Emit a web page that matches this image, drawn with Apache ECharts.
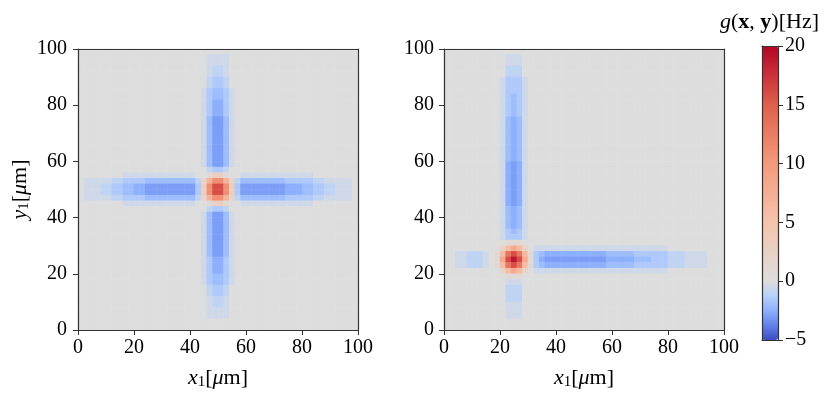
<!DOCTYPE html>
<html>
<head>
<meta charset="utf-8">
<script src="https://cdn.jsdelivr.net/npm/echarts@6/dist/echarts.min.js"></script>
<style>
  html, body { margin: 0; padding: 0; background: #fff; }
  #chart { width: 830px; height: 398px; }
</style>
</head>
<body>
<div id="chart"></div>
<script>
// cell centres in um (50 x 50 cells of 2 um)
const cellCenters = [1,3,5,7,9,11,13,15,17,19,21,23,25,27,29,31,33,35,37,39,41,43,45,47,49,
                     51,53,55,57,59,61,63,65,67,69,71,73,75,77,79,81,83,85,87,89,91,93,95,97,99];

// value of each character used in the cell rows (Hz)
const levels = {
  '.': 0, a: -0.5, b: -1, c: -1.5, d: -2, e: -2.5, f: -3, g: -3.5,
  '1': 1, '2': 2, '3': 3, '4': 4, '5': 5, '6': 6, '7': 7, '8': 8, '9': 9,
  A: 10, B: 11, C: 12, D: 13, E: 14, F: 15, G: 16, H: 17, I: 18, J: 19, K: 20
};

// left panel, top row is y = 99 um, first column x = 1 um
const leftRows = [
  "..................................................",
  ".......................aaaa.......................",
  ".......................aaaa.......................",
  ".......................abba.......................",
  ".......................abba.......................",
  ".......................bccb.......................",
  ".......................bccb.......................",
  "......................acddca......................",
  "......................acddca......................",
  "......................aceeca......................",
  "......................aceeca......................",
  "......................aceeca......................",
  "......................adffda......................",
  "......................adffda......................",
  "......................adffda......................",
  "......................adffda......................",
  "......................adffda......................",
  "......................adffda......................",
  "......................adffda......................",
  "......................adffda......................",
  "......................adffda......................",
  ".......................bccb.......................",
  "........aaaaaaaaaaaaa..1331..aaaaaaaaaaaaa........",
  ".aaaaabbccccdddddddddb27BB72bddddddddcccccbbaaaaa.",
  ".aaabbccddeefffffffffc3BGGB3cffffffffeeeddccbbaaa.",
  ".aaabbccddeefffffffffc3BGGB3cffffffffeeeddccbbaaa.",
  ".aaaaabbccccdddddddddb27BB72bddddddddcccccbbaaaaa.",
  "........aaaaaaaaaaaaa..1331..aaaaaaaaaaaaa........",
  ".......................bccb.......................",
  "......................adffda......................",
  "......................adffda......................",
  "......................adffda......................",
  "......................adffda......................",
  "......................adffda......................",
  "......................adffda......................",
  "......................adffda......................",
  "......................adffda......................",
  "......................aceeca......................",
  "......................aceeca......................",
  "......................aceeca......................",
  "......................acddca......................",
  "......................acddca......................",
  ".......................bccb.......................",
  ".......................bccb.......................",
  ".......................abba.......................",
  ".......................abba.......................",
  ".......................aaaa.......................",
  ".......................aaaa.......................",
  "..................................................",
  ".................................................."
];

// right panel, same layout
const rightRows = [
  "..................................................",
  "...........aaa....................................",
  "...........aaa....................................",
  "...........bbb....................................",
  "...........bbb....................................",
  "..........accca...................................",
  "..........accca...................................",
  "..........accca...................................",
  "..........acdca...................................",
  "..........acdca...................................",
  "..........acdca...................................",
  "..........acdca...................................",
  "..........adeda...................................",
  "..........adeda...................................",
  "..........adeda...................................",
  "..........adeda...................................",
  "..........adeda...................................",
  "..........adeda...................................",
  "..........adeda...................................",
  "..........adeda...................................",
  "..........aefea...................................",
  "..........aefea...................................",
  "..........aefea...................................",
  "..........aefea...................................",
  "..........aefea...................................",
  "..........aefea...................................",
  "..........aefea...................................",
  "..........aefea...................................",
  "..........adeda...................................",
  "..........adeda...................................",
  "..........adeda...................................",
  "..........adeda...................................",
  "..........acdca...................................",
  "..........accca...................................",
  "...........111....................................",
  "..........26862.aaaaaaaaaaaaaaaaaaaaaaaa..........",
  "..aabbba.16DGD61cdeeeeeeeeeeedddddccccccbbbaaaa...",
  "..aabbba.18GJG81cefffffffffffeeeeedddcccbbbaaaa...",
  "..aabbba.16DGD61cdeeeeeeeeeeedddddccccccbbbaaaa...",
  "..........26862.aaaaaaaaaaaaaaaaaaaaaaaa..........",
  "...........111....................................",
  "...........aaa....................................",
  "...........bbb....................................",
  "...........bbb....................................",
  "...........bbb....................................",
  "...........aaa....................................",
  "...........aaa....................................",
  "...........aaa....................................",
  "..................................................",
  ".................................................."
];

const colorbarTicks = [-5, 0, 5, 10, 15, 20];

function toCells(rows) {
  const out = [];
  rows.forEach(function (row, k) {
    if (row.length !== 50) throw new Error('row ' + k + ' has length ' + row.length);
    for (let j = 0; j < 50; j++) {
      const v = levels[row[j]];
      if (v === undefined) throw new Error('bad char ' + row[j]);
      out.push([j, 49 - k, v]);
    }
  });
  return out;
}

// coolwarm, split at 0 (two slope norm, -5 .. 0 .. 20)
const coolwarm = [[59,76,192],[98,130,234],[141,176,254],[184,208,249],[221,221,221],
                  [245,196,173],[244,154,123],[222,96,77],[180,4,38]];
function cw(t) {
  const s = t * 8;
  const i = Math.min(7, Math.floor(s));
  const f = s - i;
  const a = coolwarm[i], b = coolwarm[i + 1];
  return 'rgb(' + [0, 1, 2].map(n => Math.round(a[n] + (b[n] - a[n]) * f)).join(',') + ')';
}
function norm(v) { return v < 0 ? 0.5 + 0.1 * v : 0.5 + v / 40; }
const barColors = [];
for (let v = -5; v <= 20.001; v += 1.25) barColors.push(cw(norm(v)));

const FONT = 'Liberation Serif';
const frameLine = { show: true, onZero: false, lineStyle: { color: '#333', width: 1.2 } };
const rich = {
  i: { fontFamily: FONT, fontStyle: 'italic', fontWeight: 'normal', fontSize: 22, color: '#000', lineHeight: 24 },
  r: { fontFamily: FONT, fontWeight: 'normal', fontSize: 22, color: '#000', lineHeight: 24 },
  b: { fontFamily: FONT, fontWeight: 'bold', fontSize: 22, color: '#000', lineHeight: 24 },
  s: { fontFamily: FONT, fontWeight: 'normal', fontSize: 15, color: '#000', lineHeight: 14, verticalAlign: 'bottom' }
};
const labelStyle = { color: '#000', fontSize: 20, fontFamily: FONT };

function tickAxis(gridIndex, position, extra) {
  return Object.assign({
    type: 'value', gridIndex: gridIndex, position: position, z: 10,
    min: 0, max: 100, interval: 20,
    axisLine: frameLine,
    axisTick: { show: true, inside: false, length: 5, lineStyle: { color: '#333', width: 1 } },
    axisLabel: Object.assign({ margin: 8 }, labelStyle),
    splitLine: { show: false }
  }, extra || {});
}
function lineAxis(gridIndex, position, min, max) {
  return {
    type: 'value', gridIndex: gridIndex, position: position, z: 10, min: min, max: max,
    axisLine: frameLine, axisTick: { show: false }, axisLabel: { show: false }, splitLine: { show: false }
  };
}

const xName = '{i|x}{s|1}{r|[}{i|μ}{r|m]}';
const yName = '{i|y}{s|1}{r|[}{i|μ}{r|m]}';

const chart = echarts.init(document.getElementById('chart'));
chart.setOption({
  animation: false,
  title: {
    text: '{i|g}{r|(}{b|x}{r|, }{b|y}{r|)[Hz]}',
    right: 6, top: 5,
    textStyle: { fontWeight: 'normal', rich: rich }
  },
  grid: [
    { left: 78, top: 49, width: 280, height: 281 },
    { left: 444, top: 49, width: 280, height: 281 },
    { left: 78, top: 49, width: 280, height: 281 },
    { left: 444, top: 49, width: 280, height: 281 },
    { left: 762, top: 46, width: 16, height: 294 }
  ],
  xAxis: [
    { type: 'category', gridIndex: 0, data: cellCenters, show: false },
    { type: 'category', gridIndex: 1, data: cellCenters, show: false },
    tickAxis(2, 'bottom', { name: xName, nameLocation: 'middle', nameGap: 36, nameTextStyle: { rich: rich } }),
    lineAxis(2, 'top', 0, 100),
    tickAxis(3, 'bottom', { name: xName, nameLocation: 'middle', nameGap: 36, nameTextStyle: { rich: rich } }),
    lineAxis(3, 'top', 0, 100),
    lineAxis(4, 'bottom', 0, 1),
    lineAxis(4, 'top', 0, 1)
  ],
  yAxis: [
    { type: 'category', gridIndex: 0, data: cellCenters, show: false },
    { type: 'category', gridIndex: 1, data: cellCenters, show: false },
    tickAxis(2, 'left', { axisLabel: Object.assign({ margin: 11 }, labelStyle),
      name: yName, nameLocation: 'middle', nameGap: 46, nameRotate: 90, nameTextStyle: { rich: rich } }),
    lineAxis(2, 'right', 0, 100),
    tickAxis(3, 'left', { axisLabel: Object.assign({ margin: 10 }, labelStyle) }),
    lineAxis(3, 'right', 0, 100),
    lineAxis(4, 'left', -5, 20),
    {
      type: 'value', gridIndex: 4, position: 'right', z: 10,
      min: colorbarTicks[0], max: colorbarTicks[colorbarTicks.length - 1], interval: 5,
      axisLine: frameLine,
      axisTick: { show: true, inside: false, length: 5, lineStyle: { color: '#333', width: 1 } },
      axisLabel: Object.assign({
        margin: 7,
        formatter: v => (v < 0 ? '\u2212' + Math.abs(v) : String(v))
      }, labelStyle),
      splitLine: { show: false }
    }
  ],
  visualMap: {
    type: 'continuous', min: -5, max: 20, seriesIndex: [0, 1],
    inRange: { color: barColors },
    show: true, calculable: false, hoverLink: false, orient: 'vertical',
    left: 762, top: 46, itemWidth: 16, itemHeight: 294, padding: 0, text: null
  },
  series: [
    { type: 'heatmap', xAxisIndex: 0, yAxisIndex: 0, data: toCells(leftRows), emphasis: { disabled: true } },
    { type: 'heatmap', xAxisIndex: 1, yAxisIndex: 1, data: toCells(rightRows), emphasis: { disabled: true } }
  ]
});
</script>
</body>
</html>
